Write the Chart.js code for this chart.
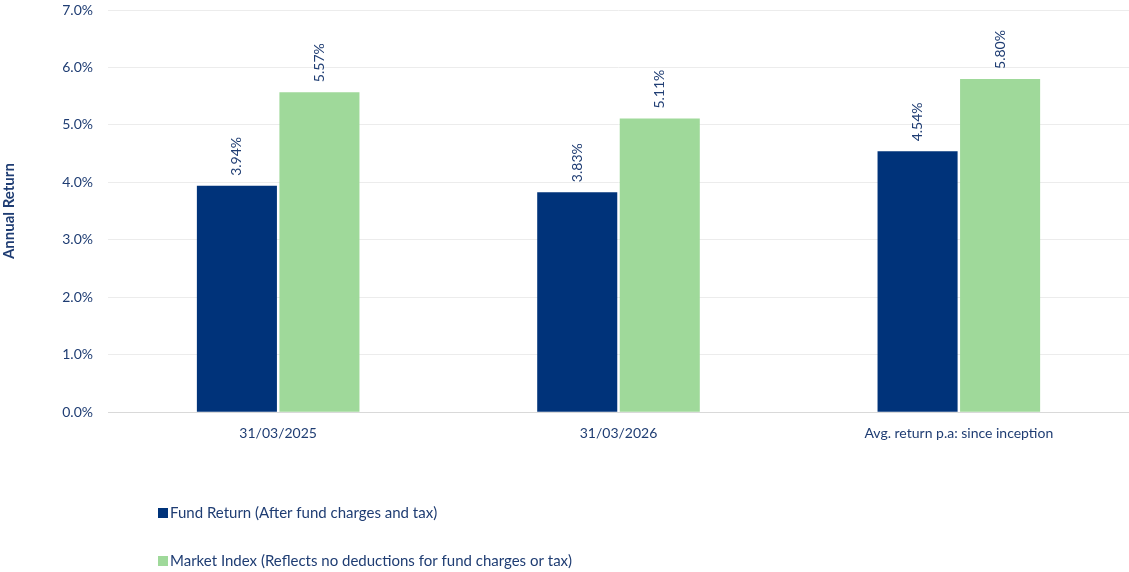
<!DOCTYPE html>
<html>
<head>
<meta charset="utf-8">
<script src="https://cdn.jsdelivr.net/npm/chart.js@4/dist/chart.umd.min.js"></script>
<style>
  html,body{margin:0;padding:0;background:#fff;}
  #wrap{width:1129px;height:572px;position:relative;}
</style>
</head>
<body>
<div id="wrap"><canvas id="c"></canvas></div>
<script>
const categories = ['31/03/2025', '31/03/2026', 'Avg. return p.a: since inception'];
const fundReturn = [3.94, 3.83, 4.54];
const marketIndex = [5.57, 5.11, 5.80];
const seriesNames = ['Fund Return (After fund charges and tax)', 'Market Index (Reflects no deductions for fund charges or tax)'];
const seriesColors = ['#00337a', '#9fd99a'];

const TEXT = '#1f3d73';
const FONT = 'Lato, "Open Sans", sans-serif';

// rotated value labels above each bar
const valueLabels = {
  id:'valueLabels',
  afterDatasetsDraw(chart){
    const ctx = chart.ctx;
    ctx.save();
    ctx.fillStyle = TEXT;
    ctx.font = '14px ' + FONT;
    ctx.textAlign = 'left';
    ctx.textBaseline = 'middle';
    chart.data.datasets.forEach((ds, i)=>{
      chart.getDatasetMeta(i).data.forEach((bar, j)=>{
        ctx.save();
        ctx.translate(bar.x, bar.y - 10);
        ctx.rotate(-Math.PI/2);
        ctx.fillText(ds.data[j].toFixed(2) + '%', 0, 0);
        ctx.restore();
      });
    });
    ctx.restore();
  }
};

// stacked legend bottom-left
const stackedLegend = {
  id:'stackedLegend',
  afterDraw(chart){
    const ctx = chart.ctx;
    ctx.save();
    ctx.font = '15px ' + FONT;
    ctx.textBaseline = 'middle';
    const ys = [513, 561];
    chart.data.datasets.forEach((ds, i)=>{
      ctx.fillStyle = ds.backgroundColor;
      ctx.fillRect(158, ys[i]-5, 10, 10);
      ctx.fillStyle = TEXT;
      ctx.fillText(ds.label, 170, ys[i]);
    });
    ctx.restore();
  }
};

new Chart(document.getElementById('c'), {
  type:'bar',
  data:{
    labels: categories,
    datasets:[
      {label:seriesNames[0], data:fundReturn, backgroundColor:seriesColors[0], categoryPercentage:0.485, barPercentage:0.97},
      {label:seriesNames[1], data:marketIndex, backgroundColor:seriesColors[1], categoryPercentage:0.485, barPercentage:0.97}
    ]
  },
  options:{
    responsive:true, maintainAspectRatio:false, animation:false,
    layout:{padding:{top:10, right:0, bottom:125, left:0}},
    plugins:{legend:{display:false}, tooltip:{enabled:false}},
    scales:{
      x:{
        grid:{display:false},
        border:{color:'#d9d9d9', width:1},
        ticks:{color:TEXT, font:{family:FONT, size:14}, padding:5, maxRotation:0}
      },
      y:{
        min:0, max:7,
        afterFit(scale){ scale.width = 108; scale.paddingTop = 0; scale.paddingBottom = 0; },
        ticks:{stepSize:1, color:TEXT, font:{family:FONT, size:14}, padding:15, callback:v=>v.toFixed(1)+'%'},
        grid:{color:'#ececec', lineWidth:1, drawTicks:false},
        border:{display:false},
        title:{display:true, text:'Annual Return', color:TEXT, font:{family:FONT, size:15, weight:'bold'}, padding:{top:0,bottom:20}}
      }
    }
  },
  plugins:[valueLabels, stackedLegend]
});
</script>
</body>
</html>
